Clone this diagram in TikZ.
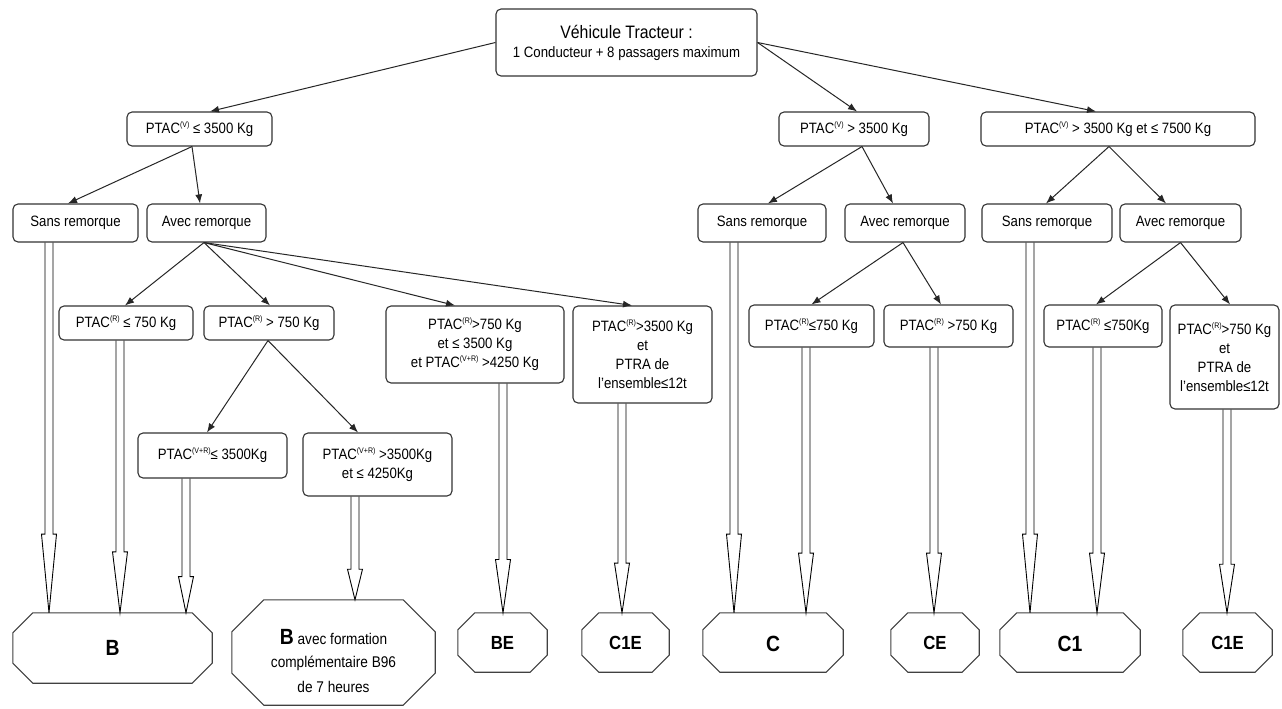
\documentclass[tikz,border=0pt]{standalone}
\usepackage{fontspec}
\setmainfont{Liberation Sans}[FakeStretch=0.88]
\usetikzlibrary{arrows.meta,calc}
\newcommand\up[1]{\raisebox{0.42em}{\fontsize{8}{8}\selectfont #1}}
\newcommand\fnt{\fontsize{15}{19}\selectfont}
\newcommand\bx[6]{\node[box, minimum width={(#4-#2)*1pt}, minimum height={(#5-#3)*1pt}] (#1) at ({(#2+#4)/2},{(#3+#5)/2}) {#6};}
\newcommand\oc[8]{%
 \node[oct, minimum width={(#4-#2)*1pt}, minimum height={(#5-#3)*1pt}] (#1) at ({(#2+#4)/2},{(#3+#5)/2}) {};
 \node[oct] (#1t) at ($(#1.center)+(0,#8)$) {#7};
 \draw[octline] ($(#1.north west)+(#6,0)$) -- ($(#1.north east)+(-#6,0)$) -- ($(#1.north east)+(0,#6)$) -- ($(#1.south east)+(0,-#6)$) -- ($(#1.south east)+(-#6,0)$) -- ($(#1.south west)+(#6,0)$) -- ($(#1.south west)+(0,-#6)$) -- ($(#1.north west)+(0,#6)$) -- cycle;}
\newcommand\dbl[3]{%
 \draw[dblline] let \p1=(#2.south), \p2=(#3.north), \n1={0.18*(\y1-\y2)+12pt} in
  ({#1pt-4pt},\y1) -- ({#1pt-4pt},{\y2+\n1}) -- ({#1pt-7.5pt},{\y2+\n1}) -- ({#1pt},\y2) -- ({#1pt+7.5pt},{\y2+\n1}) -- ({#1pt+4pt},{\y2+\n1}) -- ({#1pt+4pt},\y1);}
\begin{document}
\begin{tikzpicture}[x=1pt,y=-1pt,
 box/.style={draw=black!80, line width=1.1pt, rounded corners=5pt, align=center, inner sep=0pt, font=\fnt},
 arr/.style={draw=black!85, line width=1pt, -{Latex[length=9pt,width=7pt]}},
 oct/.style={inner sep=0pt, align=center, font=\fontsize{15.5}{24}\selectfont},
 octline/.style={draw=black!75, line width=1.1pt},
 dblline/.style={draw=black, line width=0.9pt, line join=miter}
]
\useasboundingbox (0,0) rectangle (1282,709);
\fill[white] (0,0) rectangle (1282,709);

% level 1
\bx{top}{496}{9}{757}{76}{{\fontsize{18}{20}\selectfont V\'ehicule Tracteur :}\\1 Conducteur + 8 passagers maximum}
% level 2
\bx{A}{127}{112}{272}{146}{PTAC\up{(V)} ≤ 3500 Kg}
\bx{Bv}{779}{112}{929}{146}{PTAC\up{(V)} > 3500 Kg}
\bx{Cv}{981}{112}{1255}{146}{PTAC\up{(V)} > 3500 Kg et ≤ 7500 Kg}
% level 3
\bx{sansL}{13}{204}{138}{242}{Sans remorque}
\bx{avecL}{147}{204}{266}{242}{Avec remorque}
\bx{sansM}{698}{204}{826}{242}{Sans remorque}
\bx{avecM}{845}{204}{965}{242}{Avec remorque}
\bx{sansR}{982}{204}{1112}{242}{Sans remorque}
\bx{avecR}{1120}{204}{1241}{242}{Avec remorque}
% level 4
\bx{r1}{59}{306}{193}{340}{PTAC\up{(R)} ≤ 750 Kg}
\bx{r2}{204}{306}{334}{340}{PTAC\up{(R)} > 750 Kg}
\bx{r3}{386}{306}{564}{383}{PTAC\up{(R)}>750 Kg\\et ≤ 3500 Kg\\et PTAC\up{(V+R)} >4250 Kg}
\bx{r4}{573}{306}{712}{403}{PTAC\up{(R)}>3500 Kg\\et\\PTRA de\\l'ensemble≤12t}
\bx{vr1}{138}{433}{287}{478}{PTAC\up{(V+R)}≤ 3500Kg}
\bx{vr2}{303}{433}{452}{496}{PTAC\up{(V+R)} >3500Kg\\et ≤ 4250Kg}
\bx{m1}{749}{305}{874}{347}{PTAC\up{(R)}≤750 Kg}
\bx{m2}{884}{305}{1013}{347}{PTAC\up{(R)} >750 Kg}
\bx{n1}{1044}{305}{1162}{347}{PTAC\up{(R)} ≤750Kg}
\bx{n2}{1170}{305}{1279}{409}{PTAC\up{(R)}>750 Kg\\et\\PTRA de\\l'ensemble≤12t}

% octagons
\oc{OB}{13}{613}{212}{683}{20}{{\fontsize{22}{22}\selectfont\bfseries B}}{0}
\oc{OB96}{232}{600}{435}{705}{32}{{\fontsize{22}{22}\selectfont\bfseries B} avec formation\\compl\'ementaire B96\\de 7 heures}{8}
\oc{OBE}{458}{613}{547}{672}{17}{{\fontsize{19}{19}\selectfont\bfseries BE}}{0}
\oc{OC1E}{582}{613}{669}{672}{17}{{\fontsize{19}{19}\selectfont\bfseries C1E}}{0}
\oc{OC}{703}{613}{843}{672}{17}{{\fontsize{22}{22}\selectfont\bfseries C}}{1}
\oc{OCE}{891}{613}{979}{672}{17}{{\fontsize{19}{19}\selectfont\bfseries CE}}{0}
\oc{OC1}{1000}{613}{1140}{672}{17}{{\fontsize{22}{22}\selectfont\bfseries C1}}{1}
\oc{OC1Er}{1183}{613}{1272}{672}{17}{{\fontsize{19}{19}\selectfont\bfseries C1E}}{0}

% single arrows
\draw[arr] (top.west) -- ([xshift=10.5pt]A.north);
\draw[arr] (top.east) -- ([xshift=3pt]Bv.north);
\draw[arr] (top.east) -- ([xshift=-22pt]Cv.north);
\draw[arr] ([xshift=-7.5pt]A.south) -- ([xshift=-7.5pt]sansL.north);
\draw[arr] ([xshift=-7.5pt]A.south) -- ([xshift=-6.5pt]avecL.north);
\draw[arr] ([xshift=8pt]Bv.south) -- ([xshift=6pt]sansM.north);
\draw[arr] ([xshift=8pt]Bv.south) -- ([xshift=-12pt]avecM.north);
\draw[arr] ([xshift=-9pt]Cv.south) -- ([xshift=-1pt]sansR.north);
\draw[arr] ([xshift=-9pt]Cv.south) -- ([xshift=-14.5pt]avecR.north);
\draw[arr] ([xshift=-2.5pt]avecL.south) -- ([xshift=-1pt]r1.north);
\draw[arr] ([xshift=-2.5pt]avecL.south) -- ([xshift=1pt]r2.north);
\draw[arr] ([xshift=-2.5pt]avecL.south) -- ([xshift=-20pt]r3.north);
\draw[arr] ([xshift=-2.5pt]avecL.south) -- ([xshift=-10.5pt]r4.north);
\draw[arr] ([xshift=-1pt]r2.south) -- ([xshift=-5.5pt]vr1.north);
\draw[arr] ([xshift=-1pt]r2.south) -- ([xshift=-19.5pt]vr2.north);
\draw[arr] ([xshift=-2pt]avecM.south) -- (m1.north);
\draw[arr] ([xshift=-2pt]avecM.south) -- ([xshift=-7.5pt]m2.north);
\draw[arr] (avecR.south) -- ([xshift=-7pt]n1.north);
\draw[arr] (avecR.south) -- ([xshift=5.5pt]n2.north);

% double (hollow) arrows
\dbl{49}{sansL}{OB}
\dbl{120}{r1}{OB}
\dbl{186}{vr1}{OB}
\dbl{355}{vr2}{OB96}
\dbl{503}{r3}{OBE}
\dbl{622}{r4}{OC1E}
\dbl{734}{sansM}{OC}
\dbl{806}{m1}{OC}
\dbl{934}{m2}{OCE}
\dbl{1030}{sansR}{OC1}
\dbl{1097}{n1}{OC1}
\dbl{1227}{n2}{OC1Er}
\end{tikzpicture}
\end{document}
